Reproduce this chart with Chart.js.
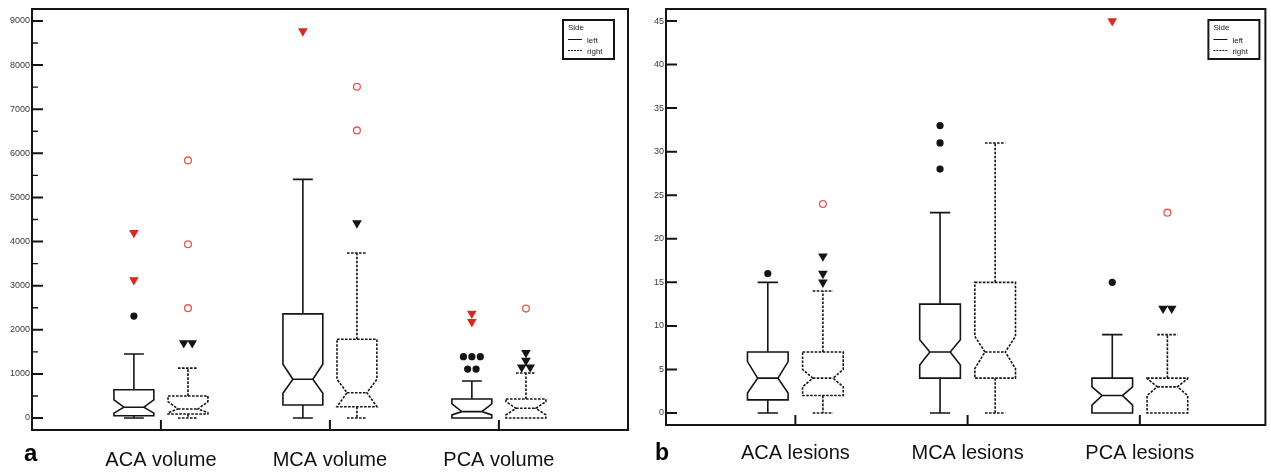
<!DOCTYPE html>
<html>
<head>
<meta charset="utf-8">
<script src="https://cdn.jsdelivr.net/npm/chart.js@4.4.1/dist/chart.umd.min.js"></script>
<style>
  html, body { margin: 0; padding: 0; background: #fff; }
  #wrap { position: relative; width: 1271px; height: 472px; }
  canvas { position: absolute; top: 0; }
  #chartA { left: 0; }
  #chartB { left: 640px; }
</style>
</head>
<body>
<div id="wrap">
  <canvas id="chartA" width="640" height="472"></canvas>
  <canvas id="chartB" width="631" height="472"></canvas>
</div>
<script>
// ---- data ----
const legendTitle = 'Side';
const sideNames = ['left', 'right'];

// panel a: infarct volume
const volumeCategories = ['ACA volume', 'MCA volume', 'PCA volume'];
const volumeTicks = [0, 1000, 2000, 3000, 4000, 5000, 6000, 7000, 8000, 9000];
const volumeMinorTicks = [500, 1500, 2500, 3500, 4500, 5500, 6500, 7500, 8500];
// [min, q1, notchLow, median, notchHigh, q3, max]
const volumeLeftBoxes = [
  [0, 50, 110, 245, 410, 640, 1450],
  [0, 295, 560, 880, 1220, 2360, 5410],
  [0, 0, 70, 145, 320, 430, 840]
];
const volumeRightBoxes = [
  [0, 90, 120, 205, 370, 500, 1130],
  [0, 256, 256, 574, 877, 1784, 3740],
  [0, 0, 70, 220, 370, 430, 1020]
];
const volumeLeftOutside = [[2310], [], [1390, 1390, 1390, 1110, 1110]];
const volumeLeftFarOut = [[4200, 3130], [8770], [2370, 2180]];
const volumeRightOutside = [[1700, 1700], [4420], [1480, 1300, 1150, 1150]];
const volumeRightFarOut = [[5840, 3940, 2490], [7510, 6520], [2480]];

// panel b: number of lesions
const lesionCategories = ['ACA lesions', 'MCA lesions', 'PCA lesions'];
const lesionTicks = [0, 5, 10, 15, 20, 25, 30, 35, 40, 45];
const lesionLeftBoxes = [
  [0, 1.5, 2.3, 4, 5.9, 7, 15],
  [0, 4, 5.5, 7, 8.4, 12.5, 23],
  [0, 0, 0.9, 2, 3, 4, 9]
];
const lesionRightBoxes = [
  [0, 2, 3, 4, 5, 7, 14],
  [0, 4, 5.1, 7, 8.8, 15, 31],
  [0, 0, 2, 3, 3.95, 4, 9]
];
const lesionLeftOutside = [[16], [33, 31, 28], [15]];
const lesionLeftFarOut = [[], [], [45]];
const lesionRightOutside = [[18, 16, 15], [], [12, 12]];
const lesionRightFarOut = [[24], [], [23]];

// ---- style ----
const FONT = "'Liberation Sans', Arial, Helvetica, sans-serif";
const INK = '#151515';
const RED = '#d42a20';
const RED_RING = '#e25a55';
const SIDE_OFFSET = 0.16;   // in category units
const BOX_HALF = 0.118;
const JITTER = 0.05;

// identical values get spread sideways so they stay visible
function spreadPoints(groups, side) {
  const pts = [];
  groups.forEach((vals, i) => {
    const counts = {};
    vals.forEach(v => { counts[v] = (counts[v] || 0) + 1; });
    const seen = {};
    vals.forEach(v => {
      const n = counts[v];
      const k = seen[v] = (seen[v] || 0) + 1;
      pts.push({ x: i + side * SIDE_OFFSET + (k - 1 - (n - 1) / 2) * JITTER, y: v });
    });
  });
  return pts;
}

function outlierSets(leftOut, leftFar, rightOut, rightFar) {
  return [
    { label: 'left outside', data: spreadPoints(leftOut, -1), pointStyle: 'circle', pointRadius: 3.6,
      pointBackgroundColor: INK, pointBorderWidth: 0 },
    { label: 'left far out', data: spreadPoints(leftFar, -1), pointStyle: 'triangle', pointRotation: 180,
      pointRadius: 5.6, pointBackgroundColor: RED, pointBorderWidth: 0 },
    { label: 'right outside', data: spreadPoints(rightOut, 1), pointStyle: 'triangle', pointRotation: 180,
      pointRadius: 5.6, pointBackgroundColor: INK, pointBorderWidth: 0 },
    { label: 'right far out', data: spreadPoints(rightFar, 1), pointStyle: 'circle', pointRadius: 3.4,
      pointBackgroundColor: '#fff', pointBorderColor: RED_RING, pointBorderWidth: 1.3 }
  ];
}

function drawBoxes(chart, boxes, side, dashed) {
  const { ctx, scales: { x, y } } = chart;
  const py = v => y.getPixelForValue(v);
  ctx.save();
  ctx.strokeStyle = INK;
  ctx.lineWidth = 1.6;
  ctx.setLineDash(dashed ? [2.6, 1.4] : []);
  boxes.forEach((b, i) => {
    const [mn, q1, nLo, med, nHi, q3, mx] = b;
    const c = i + side * SIDE_OFFSET;
    const xc = x.getPixelForValue(c);
    const xl = x.getPixelForValue(c - BOX_HALF);
    const xr = x.getPixelForValue(c + BOX_HALF);
    const capL = x.getPixelForValue(c - BOX_HALF / 2);
    const capR = x.getPixelForValue(c + BOX_HALF / 2);
    const ind = (xr - xl) * 0.25;

    ctx.beginPath();
    if (mx > q3) {
      ctx.moveTo(xc, py(q3)); ctx.lineTo(xc, py(mx));
      ctx.moveTo(capL, py(mx)); ctx.lineTo(capR, py(mx));
    }
    if (mn < q1) {
      ctx.moveTo(xc, py(q1)); ctx.lineTo(xc, py(mn));
      ctx.moveTo(capL, py(mn)); ctx.lineTo(capR, py(mn));
    }
    ctx.stroke();

    const hi = Math.min(nHi, q3), lo = Math.max(nLo, q1);
    ctx.beginPath();
    ctx.moveTo(xl, py(q3));
    ctx.lineTo(xr, py(q3));
    ctx.lineTo(xr, py(hi));
    ctx.lineTo(xr - ind, py(med));
    ctx.lineTo(xr, py(lo));
    ctx.lineTo(xr, py(q1));
    ctx.lineTo(xl, py(q1));
    ctx.lineTo(xl, py(lo));
    ctx.lineTo(xl + ind, py(med));
    ctx.lineTo(xl, py(hi));
    ctx.closePath();
    ctx.moveTo(xl + ind, py(med));
    ctx.lineTo(xr - ind, py(med));
    ctx.stroke();
  });
  ctx.restore();
}

function decorate(chart, p) {
  const { ctx, chartArea: a, scales: { x, y } } = chart;
  ctx.save();
  ctx.setLineDash([]);
  ctx.strokeStyle = INK;

  // frame
  ctx.lineWidth = 2;
  ctx.strokeRect(a.left, a.top, a.right - a.left, a.bottom - a.top);

  // inward ticks
  ctx.beginPath();
  p.ticks.forEach(v => {
    const yy = y.getPixelForValue(v);
    ctx.moveTo(a.left, yy); ctx.lineTo(a.left + 11, yy);
  });
  x.ticks.forEach(t => {
    const xx = x.getPixelForValue(t.value);
    ctx.moveTo(xx, a.bottom); ctx.lineTo(xx, a.bottom - 10);
  });
  ctx.stroke();
  ctx.lineWidth = 1.4;
  ctx.beginPath();
  p.minor.forEach(v => {
    const yy = y.getPixelForValue(v);
    ctx.moveTo(a.left, yy); ctx.lineTo(a.left + 6, yy);
  });
  ctx.stroke();

  // legend box
  const w = 51, h = 39;
  const lx = a.right - p.legendRight - w, ly = a.top + 11;
  ctx.fillStyle = '#fff';
  ctx.fillRect(lx, ly, w, h);
  ctx.lineWidth = 2;
  ctx.strokeRect(lx, ly, w, h);
  ctx.fillStyle = '#222';
  ctx.font = `8px ${FONT}`;
  ctx.textBaseline = 'alphabetic';
  ctx.textAlign = 'left';
  ctx.fillText(legendTitle, lx + 5, ly + 10);
  ctx.lineWidth = 1;
  ctx.beginPath();
  ctx.moveTo(lx + 5, ly + 19.5); ctx.lineTo(lx + 19, ly + 19.5);
  ctx.stroke();
  ctx.setLineDash([2, 1]);
  ctx.beginPath();
  ctx.moveTo(lx + 5, ly + 30.5); ctx.lineTo(lx + 19, ly + 30.5);
  ctx.stroke();
  ctx.setLineDash([]);
  ctx.fillText(sideNames[0], lx + 24, ly + 22.5);
  ctx.fillText(sideNames[1], lx + 24, ly + 33.5);

  // panel letter
  ctx.fillStyle = '#000';
  ctx.font = `bold ${p.letterSize}px ${FONT}`;
  ctx.fillText(p.letter, p.letterX, p.letterY);
  ctx.restore();
}

function makeChart(id, p) {
  const boxPlugin = {
    id: 'notchedBoxes',
    beforeDatasetsDraw(chart) {
      drawBoxes(chart, p.leftBoxes, -1, false);
      drawBoxes(chart, p.rightBoxes, 1, true);
    },
    afterDraw(chart) { decorate(chart, p); }
  };

  return new Chart(document.getElementById(id), {
    type: 'scatter',
    data: { datasets: outlierSets(p.leftOut, p.leftFar, p.rightOut, p.rightFar) },
    options: {
      responsive: false,
      animation: false,
      events: [],
      layout: { padding: { top: 9, right: p.padRight, left: 0, bottom: 0 } },
      plugins: { legend: { display: false }, tooltip: { enabled: false } },
      scales: {
        x: {
          type: 'linear',
          min: p.xMin,
          max: p.xMax,
          grid: { display: false, drawTicks: false },
          border: { display: false },
          afterBuildTicks: s => { s.ticks = p.categories.map((c, i) => ({ value: i })); },
          afterFit: s => { s.height = p.xHeight; },
          ticks: {
            autoSkip: false,
            maxRotation: 0,
            padding: p.labelPad,
            color: '#111',
            font: { family: FONT, size: 20 },
            callback: v => p.categories[Math.round(v)]
          }
        },
        y: {
          type: 'linear',
          min: p.yMin,
          max: p.yMax,
          grid: { display: false, drawTicks: false },
          border: { display: false },
          afterBuildTicks: s => { s.ticks = p.ticks.map(v => ({ value: v })); },
          afterFit: s => { s.width = p.yWidth; },
          ticks: {
            padding: 2,
            color: '#3a3a3a',
            font: { family: FONT, size: 9 },
            callback: v => String(v)
          }
        }
      }
    },
    plugins: [boxPlugin]
  });
}

makeChart('chartA', {
  categories: volumeCategories, ticks: volumeTicks, minor: volumeMinorTicks,
  leftBoxes: volumeLeftBoxes, rightBoxes: volumeRightBoxes,
  leftOut: volumeLeftOutside, leftFar: volumeLeftFarOut,
  rightOut: volumeRightOutside, rightFar: volumeRightFarOut,
  xMin: -0.763, xMax: 2.764, yMin: -272, yMax: 9272,
  padRight: 12, xHeight: 42, yWidth: 32, labelPad: 18, legendRight: 14,
  letter: 'a', letterX: 24, letterY: 461, letterSize: 24
});

makeChart('chartB', {
  categories: lesionCategories, ticks: lesionTicks, minor: [],
  leftBoxes: lesionLeftBoxes, rightBoxes: lesionRightBoxes,
  leftOut: lesionLeftOutside, leftFar: lesionLeftFarOut,
  rightOut: lesionRightOutside, rightFar: lesionRightFarOut,
  xMin: -0.751, xMax: 2.729, yMin: -1.38, yMax: 46.38,
  padRight: 3, xHeight: 47, yWidth: 26, labelPad: 16, legendRight: 6,
  letter: 'b', letterX: 15, letterY: 460, letterSize: 23
});
</script>
</body>
</html>
